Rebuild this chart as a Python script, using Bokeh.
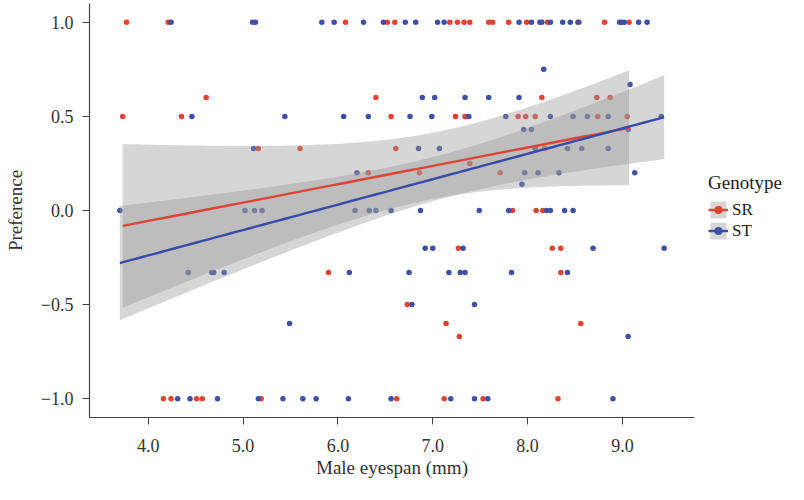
import numpy as np
from bokeh.plotting import figure
from bokeh.layouts import row
from bokeh.models import Legend, LegendItem, Range1d, FixedTicker, CustomJSTickFormatter
from bokeh.embed import file_html
from bokeh.resources import INLINE

# ---- data ----
sr_x = [3.77, 4.21, 6.08, 6.52, 6.60, 7.18, 7.26, 7.33, 7.39, 7.59, 7.63, 7.80, 7.99, 8.21, 8.53, 8.81, 9.07,
        4.61, 6.40, 8.15, 8.73, 8.87,
        3.73, 4.35, 6.56, 7.24, 7.34, 7.90, 7.98, 8.08, 8.74, 9.05,
        5.16, 5.60, 6.61, 8.18,
        7.39,
        6.32, 6.86, 7.71,
        7.84, 8.09, 8.16,
        7.27, 8.26, 8.35,
        5.90, 8.35,
        6.73,
        7.14, 8.56,
        7.28,
        4.16, 4.24, 4.51, 4.57, 5.19, 6.62, 7.12, 7.53, 8.32]
sr_y = [1.0] * 17 + [0.6] * 5 + [0.5] * 10 + [0.33] * 4 + [0.25] * 1 + [0.2] * 3 + [0.0] * 3 + \
       [-0.2] * 3 + [-0.33] * 2 + [-0.5] * 1 + [-0.6] * 2 + [-0.67] * 1 + [-1.0] * 9

st_x = [4.24, 5.10, 5.13, 5.83, 5.96, 6.27, 6.48, 6.71, 6.82, 7.05, 7.12, 7.91, 8.04, 8.13, 8.15, 8.24, 8.37,
        8.45, 8.54, 8.97, 8.99, 9.02, 9.17, 9.26,
        8.17,
        9.08,
        6.89, 7.02, 7.34, 7.59, 7.91,
        4.46, 5.44, 6.06, 6.32, 6.76, 6.99, 7.38, 7.77, 8.24, 8.48, 8.63, 8.85, 9.41,
        7.96, 8.04, 9.06,
        5.11, 6.85, 7.07, 8.08, 8.42, 8.57, 8.85,
        6.20, 7.97, 8.11, 8.33, 9.13,
        7.94,
        3.70, 5.02, 5.12, 5.20, 6.18, 6.33, 6.40, 6.56, 6.87, 7.49, 7.80, 8.20, 8.24, 8.39, 8.48,
        6.92, 7.00, 7.32, 8.69, 9.44,
        4.42, 4.67, 4.69, 4.80, 6.12, 6.75, 7.17, 7.29, 7.34, 7.83, 8.42,
        6.78, 7.44,
        5.49,
        9.06,
        4.31, 4.44, 4.73, 5.16, 5.42, 5.63, 5.77, 6.11, 6.56, 7.19, 7.44, 7.58, 8.90]
st_y = [1.0] * 24 + [0.75] + [0.67] + [0.6] * 5 + [0.5] * 13 + [0.43] * 3 + [0.33] * 7 + [0.2] * 5 + \
       [0.14] + [0.0] * 15 + [-0.2] * 5 + [-0.33] * 11 + [-0.5] * 2 + [-0.6] + [-0.67] + [-1.0] * 13

groups = ["SR", "ST"]
x_ticks = [4, 5, 6, 7, 8, 9]
y_ticks = [-1.0, -0.5, 0.0, 0.5, 1.0]

RED = "#E4432F"
BLUE = "#3F4FA5"
LRED = "#DC4436"
LBLUE = "#3A4AA8"
BAND = "#999999"
SERIF = "Liberation Serif"
TXT = "#333333"


def t975(df):
    z = 1.959964
    return z + (z**3 + z) / (4 * df) + (5 * z**5 + 16 * z**3 + 3 * z) / (96 * df**2)


def lm_fit(x, y, n_grid=80):
    x = np.asarray(x, float)
    y = np.asarray(y, float)
    n = len(x)
    xb = x.mean()
    sxx = ((x - xb) ** 2).sum()
    b1 = ((x - xb) * (y - y.mean())).sum() / sxx
    b0 = y.mean() - b1 * xb
    s = np.sqrt(((y - b0 - b1 * x) ** 2).sum() / (n - 2))
    xs = np.linspace(x.min(), x.max(), n_grid)
    yh = b0 + b1 * xs
    se = s * np.sqrt(1.0 / n + (xs - xb) ** 2 / sxx)
    t = t975(n - 2)
    return xs, yh, yh - t * se, yh + t * se


fits = [lm_fit(sr_x, sr_y), lm_fit(st_x, st_y)]
pts = [(sr_x, sr_y), (st_x, st_y)]
pt_cols = [RED, BLUE]
ln_cols = [LRED, LBLUE]

p = figure(width=694, height=484, output_backend="svg", toolbar_location=None,
           x_range=Range1d(3.38, 9.76), y_range=Range1d(-1.1, 1.1),
           min_border_left=89, min_border_right=0, min_border_top=3, min_border_bottom=67)
p.background_fill_color = "white"
p.border_fill_color = "white"
p.outline_line_color = None
p.xgrid.visible = False
p.ygrid.visible = False

for (gx, gy), c in zip(pts, pt_cols):
    p.scatter(gx, gy, size=5.5, color=c, line_color=None)
for f in fits:
    p.varea(x=f[0], y1=f[2], y2=f[3], fill_color=BAND, fill_alpha=0.4)
for f, c in zip(fits, ln_cols):
    p.line(f[0], f[1], line_color=c, line_width=2.4)

fmt = CustomJSTickFormatter(code="return tick.toFixed(1).replace('-', '\u2212');")
for ax in (p.xaxis[0], p.yaxis[0]):
    ax.formatter = fmt
    ax.axis_line_color = "#444444"
    ax.axis_line_width = 1.2
    ax.major_tick_line_color = "#444444"
    ax.major_tick_out = 7
    ax.major_tick_in = 0
    ax.minor_tick_line_color = None
    ax.major_label_text_font = SERIF
    ax.major_label_text_font_size = "18px"
    ax.major_label_text_color = TXT
    ax.axis_label_text_font = SERIF
    ax.axis_label_text_font_size = "19px"
    ax.axis_label_text_font_style = "normal"
    ax.axis_label_text_color = TXT

p.xaxis.ticker = FixedTicker(ticks=x_ticks)
p.yaxis.ticker = FixedTicker(ticks=y_ticks)
p.xaxis.axis_label = "Male eyespan (mm)"
p.yaxis.axis_label = "Preference"
p.xaxis.major_label_standoff = 14
p.xaxis.axis_label_standoff = 2
p.yaxis.major_label_standoff = 9
p.yaxis.axis_label_standoff = 12

# ---- legend panel: a narrow figure to the right; its glyphs use the same data,
# but its ranges are far away so only the legend itself is visible ----
lg = figure(width=94, height=484, output_backend="svg", toolbar_location=None,
            x_range=Range1d(100, 101), y_range=Range1d(100, 101),
            min_border_left=0, min_border_right=0, min_border_top=3, min_border_bottom=67)
lg.axis.visible = False
lg.grid.visible = False
lg.outline_line_color = None
lg.background_fill_color = "white"
lg.border_fill_color = "white"

items = []
for g, f, (gx, gy), c, lc in zip(groups, fits, pts, pt_cols, ln_cols):
    b = lg.varea(x=f[0], y1=f[2], y2=f[3], fill_color=BAND, fill_alpha=0.4)
    l = lg.line(f[0], f[1], line_color=lc, line_width=2.4)
    s = lg.scatter(gx, gy, size=5.5, color=c, line_color=None)
    items.append(LegendItem(label=g, renderers=[b, l, s]))

legend = Legend(items=items, location=(14, 176), title="Genotype",
                title_text_font=SERIF, title_text_font_size="19px", title_text_color="#222222",
                title_text_font_style="normal", title_standoff=5,
                label_text_font=SERIF, label_text_font_size="17px", label_text_color="#222222",
                glyph_width=20, glyph_height=21, label_height=21, label_standoff=4, spacing=0,
                padding=0, margin=0, border_line_color=None, background_fill_alpha=0)
lg.add_layout(legend)

layout = row(p, lg)
open("out.html", "w").write(file_html(layout, INLINE))
